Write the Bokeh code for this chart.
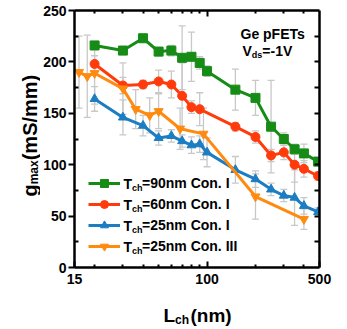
import math
from bokeh.plotting import figure
from bokeh.layouts import row, column
from bokeh.models import (ColumnDataSource, Range1d, LogAxis, LinearAxis, FixedTicker,
                          Whisker, TeeHead, Legend, LegendItem, Label, NumeralTickFormatter)
from bokeh.embed import file_html
from bokeh.resources import INLINE

# ---------------- data ----------------
L_90 = [20, 30, 40, 50, 60, 70, 80, 90, 100, 150, 200, 250, 300, 350, 400, 490]
g_90 = [216, 211, 223, 210, 211, 204, 205, 199, 191, 173, 165, 137, 125, 115, 111, 103]
e_90 = [4, 4, 4, 4, 5, 31, 24, 6, 5, 20, 17, 45, 6, 5, 9, 4]

L_60 = [20, 30, 40, 50, 60, 70, 80, 90, 150, 200, 250, 300, 350, 400, 490]
g_60 = [198, 177, 178, 181, 178, 167, 156, 154, 137, 127, 109, 112, 100, 96, 89]
e_60 = [8, 8, 4, 11, 13, 32, 6, 16, 4, 6, 6, 7, 17, 8, 4]

L_25a = [20, 30, 40, 50, 60, 70, 80, 90, 100, 150, 200, 250, 300, 350, 400, 490]
g_25a = [164, 146, 138, 126, 128, 123, 119, 120, 112, 95, 86, 76, 70, 68, 60, 54]
e_25a = [12, 17, 10, 7, 6, 6, 8, 8, 14, 13, 8, 6, 6, 27, 8, 4]

L_25b = [16, 18, 20, 30, 36, 44, 50, 68, 95, 200, 400]
g_25b = [190, 186, 189, 174, 154, 148, 152, 135, 130, 69, 47]
e_25b = [35, 40, 30, 25, 19, 17, 17, 20, 25, 22, 10]

labels = ["=90nm Con. I", "=60nm Con. I", "=25nm Con. I", "=25nm Con. III"]
y_ticks = [0, 50, 100, 150, 200, 250]
x_ticks = [15, 100, 500]

FONT = "Liberation Sans"
GRAY = "#c8c8c8"

LEFT_W = 40
MAIN_W = 347 - LEFT_W
MAIN_H = 299
BOT_H = 329 - MAIN_H

p = figure(width=MAIN_W, height=MAIN_H, x_axis_type="log",
           x_range=Range1d(15, 500), y_range=Range1d(0, 250),
           output_backend="svg", toolbar_location=None,
           min_border_left=73 - LEFT_W, min_border_right=28, min_border_top=10, min_border_bottom=32)
p.grid.visible = False
p.outline_line_color = None
p.background_fill_color = "white"
p.border_fill_color = "white"

# bottom axis
xa = p.xaxis[0]
xa.ticker = FixedTicker(ticks=x_ticks, minor_ticks=[20, 30, 40, 50, 60, 70, 80, 90, 200, 300, 400])
xa.formatter = NumeralTickFormatter(format="0")
xa.major_tick_in = 6
xa.major_tick_out = 0
xa.minor_tick_in = 3
xa.minor_tick_out = 0
xa.major_label_standoff = 6

# left axis
ya = p.yaxis[0]
ya.ticker = FixedTicker(ticks=y_ticks, minor_ticks=[25, 75, 125, 175, 225])
ya.major_tick_in = 0
ya.major_tick_out = 6
ya.minor_tick_in = 4
ya.minor_tick_out = 0
ya.major_label_standoff = 2

for ax in (xa, ya):
    ax.axis_line_width = 2.5
    ax.major_tick_line_width = 2
    ax.minor_tick_line_width = 2
    ax.major_label_text_font = FONT
    ax.major_label_text_font_style = "bold"
    ax.major_label_text_font_size = "14px"
    ax.major_label_text_color = "black"

# top axis (ticks only)
ta = LogAxis(ticker=FixedTicker(ticks=[100], minor_ticks=[20, 30, 40, 50, 60, 70, 80, 90, 200, 300, 400]),
             major_tick_in=6, major_tick_out=0, minor_tick_in=3, minor_tick_out=0,
             major_label_overrides={100: ""}, major_label_text_font_size="1px",
             major_label_standoff=0,
             axis_line_width=2.5, major_tick_line_width=2, minor_tick_line_width=2)
p.add_layout(ta, "above")

# right axis (ticks only)
r_major = [50, 100, 150, 200]
ra = LinearAxis(ticker=FixedTicker(ticks=r_major, minor_ticks=[25, 75, 125, 175, 225]),
                major_tick_in=5, major_tick_out=0, minor_tick_in=5, minor_tick_out=0,
                major_label_overrides={t: "" for t in r_major}, major_label_text_font_size="1px",
                major_label_standoff=0,
                axis_line_width=2.5, major_tick_line_width=2, minor_tick_line_width=2)
p.add_layout(ra, "right")

series = [
    (L_90, g_90, e_90, "#168c16", "square"),
    (L_60, g_60, e_60, "#ff3b0c", "circle"),
    (L_25a, g_25a, e_25a, "#1c7dc2", "triangle"),
    (L_25b, g_25b, e_25b, "#ff8a10", "inverted_triangle"),
]

items = []
for (L, g, e, col, mk), lab_text in zip(series, labels):
    src = ColumnDataSource(dict(x=L, y=g,
                                lo=[a - b for a, b in zip(g, e)],
                                hi=[a + b for a, b in zip(g, e)]))
    w = Whisker(source=src, base="x", lower="lo", upper="hi",
                line_color=GRAY, line_width=1.3,
                upper_head=TeeHead(size=7, line_color=GRAY, line_width=1.3),
                lower_head=TeeHead(size=7, line_color=GRAY, line_width=1.3))
    p.add_layout(w)
    r1 = p.line("x", "y", source=src, line_color=col, line_width=3)
    r2 = p.scatter("x", "y", source=src, marker=mk, size=9, fill_color=col, line_color=col)
    items.append(LegendItem(label=lab_text, renderers=[r1, r2]))

leg = Legend(items=items, location=(14, 11), orientation="vertical",
             glyph_width=32, glyph_height=20, label_height=20, spacing=1,
             padding=0, margin=0, label_standoff=22,
             border_line_color=None, background_fill_alpha=0,
             label_text_font=FONT, label_text_font_style="bold",
             label_text_font_size="14px", label_text_color="black")
p.add_layout(leg)


def lab(fig, text, x, y, size, angle=0.0, baseline="alphabetic"):
    fig.add_layout(Label(text=text, x=x, y=y, x_units="screen", y_units="screen",
                         text_font=FONT, text_font_style="bold", text_font_size=size,
                         text_color="black", text_baseline=baseline, angle=angle))


# legend "T_ch" parts (frame-relative screen coords)
for i in range(4):
    yc = 267 - (183 + 21 * i)
    lab(p, "T", 49, yc, "14px", baseline="middle")
    lab(p, "ch", 57.6, yc - 4, "9px", baseline="middle")

# annotation text
lab(p, "Ge pFETs", 166, 234, "14px")
lab(p, "V", 168, 217, "14px")
lab(p, "ds", 177.3, 213, "9px")
lab(p, "=-1V", 187.8, 217, "14px")


def blank_fig(w, h):
    f = figure(width=w, height=h, x_range=Range1d(0, w), y_range=Range1d(0, h),
               output_backend="svg", toolbar_location=None,
               x_axis_location=None, y_axis_location=None,
               min_border=0, min_border_left=0, min_border_right=0,
               min_border_top=0, min_border_bottom=0)
    f.grid.visible = False
    f.outline_line_color = None
    f.background_fill_color = "white"
    f.border_fill_color = "white"
    return f


# y-axis title (left strip); screen coords from strip bottom-left
left = blank_fig(LEFT_W, MAIN_H)
A = math.pi / 2
lab(left, "g", 29, MAIN_H - 228, "20px", angle=A)
lab(left, "max", 33, MAIN_H - 215.8, "12px", angle=A)
lab(left, "(mS/mm)", 29, MAIN_H - 191.8, "20px", angle=A)

# x-axis title (bottom strip)
bot = blank_fig(347, BOT_H)
lab(bot, "L", 163, 329 - 315, "19px")
lab(bot, "ch", 174.6, 329 - 319, "12px")
lab(bot, "(nm)", 190, 329 - 315, "19px")

layout = column(row(left, p, spacing=0), bot, spacing=0)

open("out.html", "w").write(file_html(layout, INLINE))
